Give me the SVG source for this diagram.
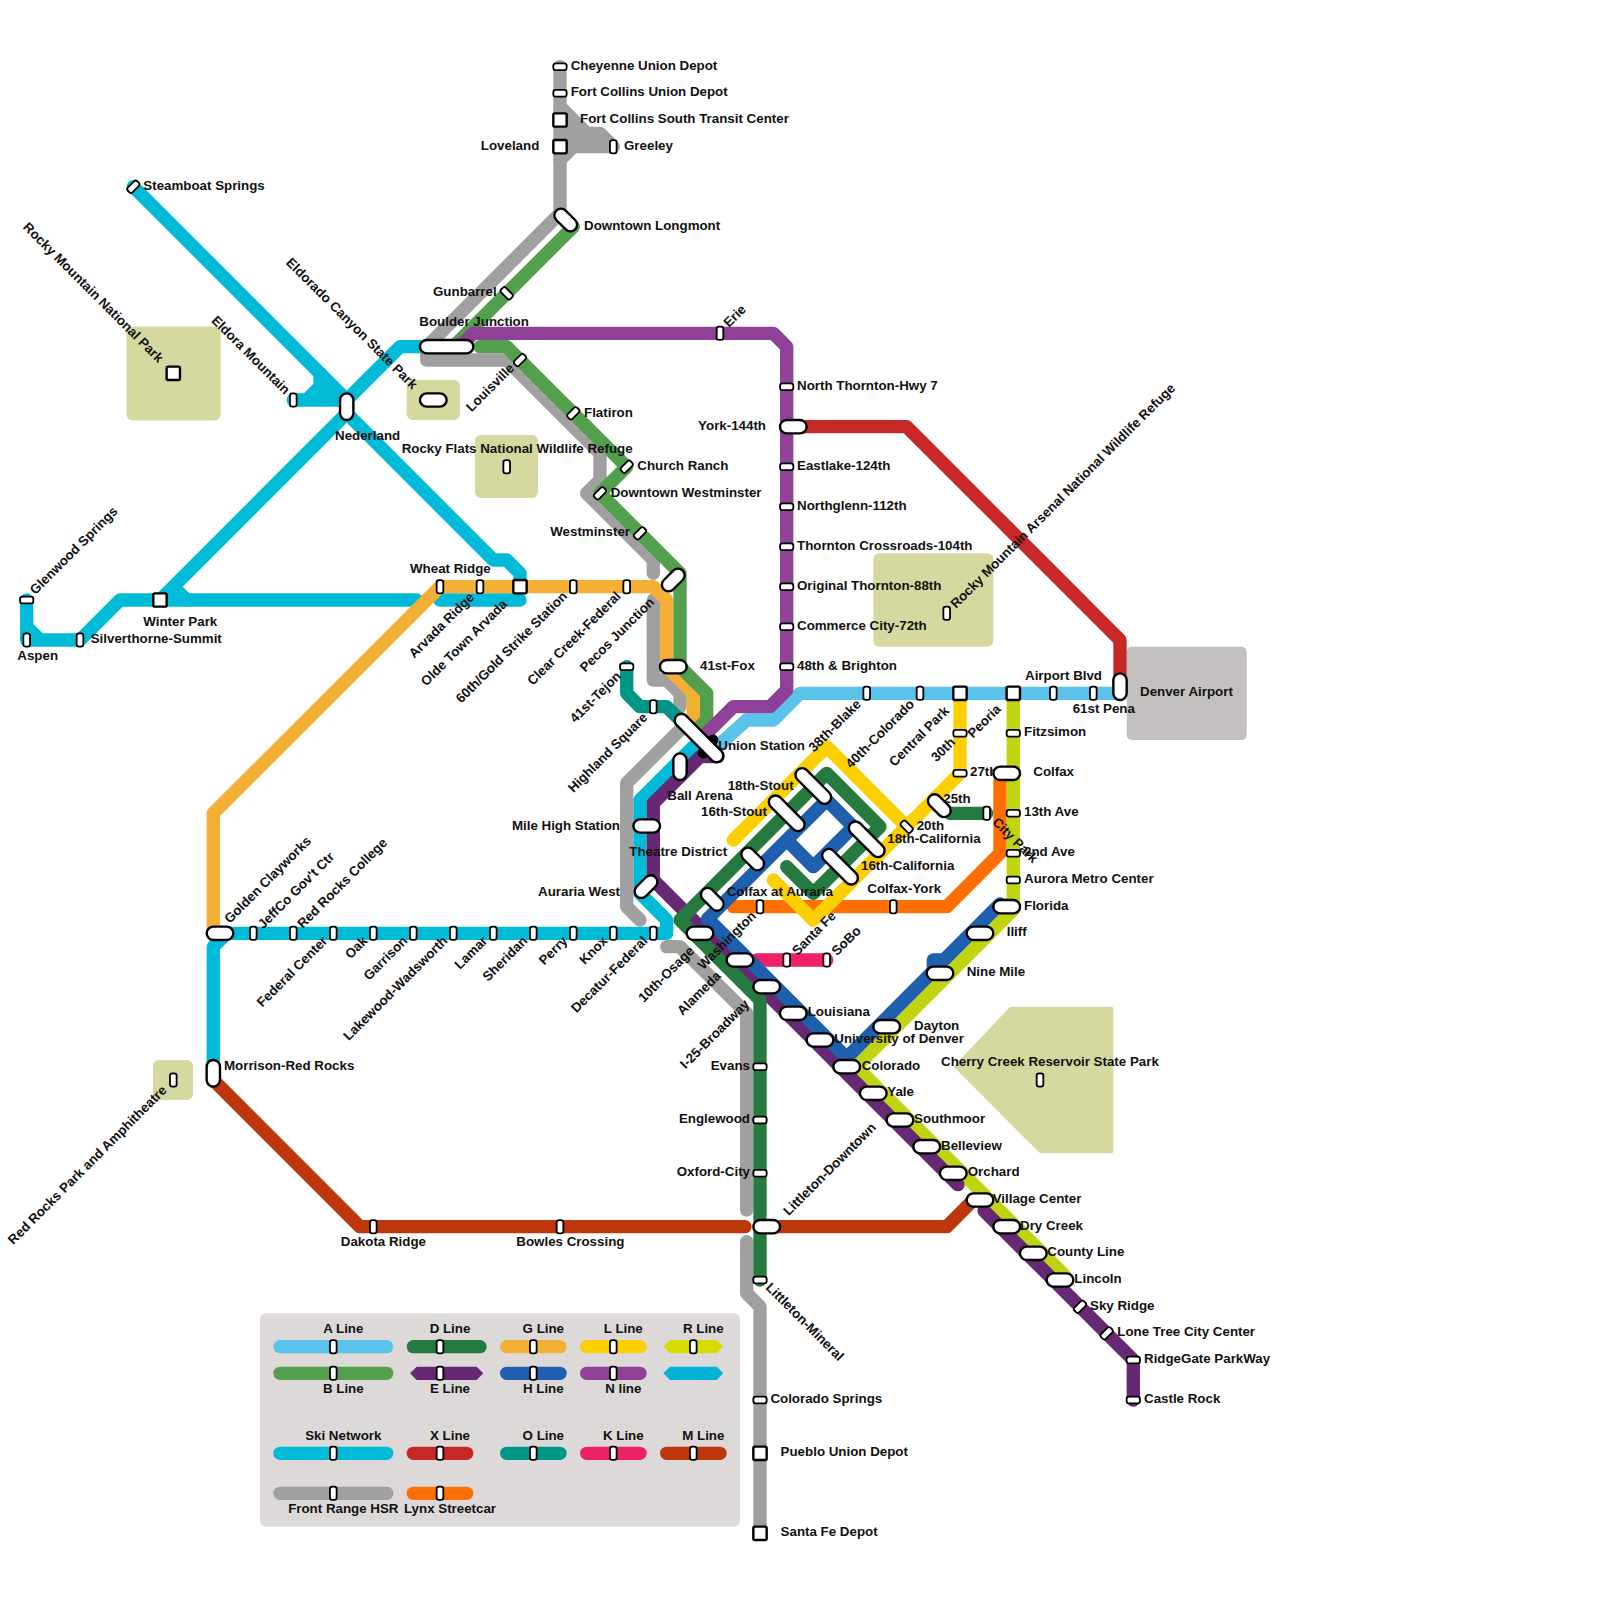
<svg xmlns="http://www.w3.org/2000/svg" width="1600" height="1600" viewBox="0 0 1600 1600">
<style>
text{font:bold 13.33px "Liberation Sans",Arial,sans-serif;fill:#111}
.m{text-anchor:middle}.e{text-anchor:end}
.st{fill:#fff;stroke:#000;stroke-width:1.8}
.p{stroke-width:2.4}
.l{fill:none;stroke-width:13.33;stroke-linecap:round;stroke-linejoin:round}
.park{fill:#d5d99f;stroke:#d5d99f;stroke-width:4;stroke-linejoin:round}
.A{stroke:#5bc2e9}.B{stroke:#52a04d}.D{stroke:#247a3f}.E{stroke:#662873}.G{stroke:#f4b034}.H{stroke:#1e5fae}.L{stroke:#fccf00}.N{stroke:#8e4196}.R{stroke:#c1d410}.S{stroke:#00bbd7}.X{stroke:#c62828}.O{stroke:#009688}.K{stroke:#ec2168}.M{stroke:#be360c}.F{stroke:#a0a0a0}.Y{stroke:#ff6f00}
</style>
<defs>
<rect id="a" class="st" x="-6.67" y="-3.33" width="13.33" height="6.67" rx="2.4"/>
<rect id="b" class="st p" x="-13.33" y="-6.67" width="26.67" height="13.33" rx="6.67"/>
<rect id="c" class="st p" x="-6.67" y="-6.67" width="13.33" height="13.33" rx="1.5"/>
<rect id="d" class="st p" x="-22.5" y="-6.67" width="45" height="13.33" rx="6.67"/>
</defs>
<g id="parks">
<rect class="park" x="128.5" y="328.5" width="90" height="90" rx="4"/>
<rect class="park" x="408.7" y="382" width="49.3" height="36" rx="4"/>
<rect class="park" x="477" y="437" width="59" height="59" rx="4"/>
<rect class="park" x="875.3" y="555.3" width="116" height="89.4" rx="4"/>
<rect class="park" x="155" y="1062" width="36" height="36" rx="4"/>
<polygon class="park" points="1011,1008.7 1111.3,1008.7 1111.3,1151.3 1041,1151.3 956.3,1066.7"/>
<rect x="1126.7" y="646.7" width="120" height="93.3" rx="5" fill="#c4c0c0"/>
</g>
<g id="legend">
<rect x="260" y="1313.3" width="480" height="213.4" rx="6" fill="#ddd9d9"/>
<path class="l A" d="M280 1346.7H386.7"/><path class="l B" d="M280 1373.3H386.7"/>
<path class="l D" d="M413.3 1346.7H480"/><path class="l G" d="M506.7 1346.7H560"/><path class="l L" d="M586.7 1346.7H640"/>
<path class="l H" d="M506.7 1373.3H560"/><path class="l N" d="M586.7 1373.3H640"/>
<polygon fill="#d8da00" points="663.3,1346.7 670,1340 716.7,1340 723.3,1346.7 716.7,1353.3 670,1353.3"/>
<polygon fill="#662873" points="410,1373.3 416.7,1366.7 476.7,1366.7 483.3,1373.3 476.7,1380 416.7,1380"/>
<polygon fill="#00b4d8" points="663.3,1373.3 670,1366.7 716.7,1366.7 723.3,1373.3 716.7,1380 670,1380"/>
<path class="l S" d="M280 1453.3H386.7"/><path class="l X" d="M413.3 1453.3H466.7"/><path class="l O" d="M506.7 1453.3H560"/><path class="l K" d="M586.7 1453.3H640"/><path class="l M" d="M666.7 1453.3H720"/>
<path class="l F" d="M280 1493.3H386.7"/><path class="l Y" d="M413.3 1493.3H466.7"/>
<g id="legend-stops">
<use href="#a" transform="translate(333.3 1346.7) rotate(90)"/><use href="#a" transform="translate(333.3 1373.3) rotate(90)"/><use href="#a" transform="translate(440 1346.7) rotate(90)"/><use href="#a" transform="translate(440 1373.3) rotate(90)"/><use href="#a" transform="translate(533.3 1346.7) rotate(90)"/><use href="#a" transform="translate(533.3 1373.3) rotate(90)"/><use href="#a" transform="translate(613.3 1346.7) rotate(90)"/><use href="#a" transform="translate(613.3 1373.3) rotate(90)"/><use href="#a" transform="translate(693.3 1346.7) rotate(90)"/>
<use href="#a" transform="translate(333.3 1453.3) rotate(90)"/><use href="#a" transform="translate(440 1453.3) rotate(90)"/><use href="#a" transform="translate(533.3 1453.3) rotate(90)"/><use href="#a" transform="translate(613.3 1453.3) rotate(90)"/><use href="#a" transform="translate(693.3 1453.3) rotate(90)"/>
<use href="#a" transform="translate(333.3 1493.3) rotate(90)"/><use href="#a" transform="translate(440 1493.3) rotate(90)"/>
</g>
<text class="m" x="343.3" y="1333">A Line</text><text class="m" x="450" y="1333">D Line</text><text class="m" x="543.3" y="1333">G Line</text><text class="m" x="623.3" y="1333">L Line</text><text class="m" x="703.3" y="1333">R Line</text>
<text class="m" x="343.3" y="1393">B Line</text><text class="m" x="450" y="1393">E Line</text><text class="m" x="543.3" y="1393">H Line</text><text class="m" x="623.3" y="1393">N line</text>
<text class="m" x="343.3" y="1439.7">Ski Network</text><text class="m" x="450" y="1439.7">X Line</text><text class="m" x="543.3" y="1439.7">O Line</text><text class="m" x="623.3" y="1439.7">K Line</text><text class="m" x="703.3" y="1439.7">M Line</text>
<text class="m" x="343.3" y="1513">Front Range HSR</text><text class="m" x="450" y="1513">Lynx Streetcar</text>
</g>
<g id="connectors">
<path class="l M" d="M213.3 1080L360 1226.7H745"/>
<path class="l M" d="M766.7 1226.7H946.7L973.3 1200"/>
<path class="l S" d="M133.3 186.7L346.7 400"/>
<path class="l S" d="M293.3 400H340M293.3 400H306.7L320 386.7V373.3M320 380L335 395"/>
<path class="l S" d="M346.7 413.3L493.3 560H506.7L520 573.3V586.7"/>
<path class="l S" d="M420 346.7H400L346.7 400"/>
<path class="l S" d="M346.7 413.3L160 600M173.3 586.7L186.7 600"/>
<path class="l S" d="M416.7 600H120L80 640H26.7V600M26.7 626.7L40 640"/>
<path class="l S" d="M440 600H520"/>
<path class="l S" d="M693.3 746.7L640 800V893.3L666.7 920V933.3H213.3"/>
<path class="l S" d="M226.7 933.3L213.3 946.7V1073.3"/>
<path class="l F" d="M560 66.7V213.3L426.7 346.7V360H506.7L600 453.3V480L586.7 493.3L653.3 560V573.3"/>
<path class="l F" style="fill:#a0a0a0" d="M560 106.7L586.7 133.3H600L613.3 146.7H573.3L560 160"/>
<path class="l F" d="M653.3 600V680H666.7L680 693.3V706.7"/>
<path class="l F" d="M686 724L626.7 783V906.7L640 920"/>
<path class="l F" d="M666.7 946.7H680L746.7 1013.3V1210"/>
<path class="l F" d="M746.7 1241.7V1293.3L760 1306.7V1533.3"/>
<path class="l X" d="M786.7 426.7H906.7L1120 640V686.7"/>
<path class="l A" d="M706.7 756L746.7 720H773.3L800 693.3H1120"/>
<path class="l G" d="M213.3 933.3V813.3L440 586.7H653.3L666.7 600V666.7L693.3 693.3V720"/>
<path class="l B" d="M573.3 226.7L453.3 346.7M480 346.7H506.7L626.7 466.7L600 493.3L680 573.3V666.7L706.7 693.3V720L693 733"/>
<path class="l N" d="M460 346.7L473.3 333.3H773.3L786.7 346.7V690L770 706.7H733.3L700 740"/>
<path class="l O" d="M626.7 666.7V693.3L640 706.7H666.7L680 720"/>
<path class="l K" d="M756.7 960H826.7"/>
<path class="l Y" d="M1000 780V853.3L946.7 906.7H733.3"/>
<path class="l R" d="M1013.3 700V909.7L856.2 1066.8L1065 1275.6"/>
<path class="l E" d="M718 756.7H700L653.3 803.3V880L958 1184.7"/>
<path class="l E" d="M984 1210.7L1133.3 1360V1400"/>
<path class="l H" d="M707.8 918.8L846.7 1057.7L933.3 971V960H944L1000 904"/>
<path class="l H" d="M707.8 918.8L826.7 800L853.3 826.7L813.3 866.7L786.7 840"/>
<path class="l D" d="M760 1280V1000L680 920L826.7 773.3L880 826.7L813.3 893.3L786.7 866.7"/>
<path class="l D" d="M950 813.3H986.7"/>
<path class="l L" d="M960 700V773.3L813.3 920L773.3 880"/>
<path class="l L" d="M733.3 840L826.7 746.7L906.7 826.7"/>
<path d="M703 753L713 740" fill="none" stroke="#000" stroke-width="11" stroke-linecap="round"/>
</g>
<g id="nodes">
<g id="cheyenne"><use href="#a" x="560" y="66.7"/><text x="570.7" y="69.7">Cheyenne Union Depot</text></g>
<g id="fort-collins"><use href="#a" x="560" y="93.3"/><text x="570.7" y="96.4">Fort Collins Union Depot</text></g>
<g id="fort-collins-south"><use href="#c" x="560" y="120"/><text x="580" y="123">Fort Collins South Transit Center</text></g>
<g id="loveland"><use href="#c" x="560" y="146.7"/><text class="e" x="539.3" y="149.7">Loveland</text></g>
<g id="greeley"><use href="#a" transform="translate(613.3 146.7) rotate(90)"/><text x="624" y="149.7">Greeley</text></g>
<g id="longmont"><use href="#b" transform="translate(565.7 220) rotate(45)"/><text x="584" y="229.7">Downtown Longmont</text></g>
<g id="gunbarrel"><use href="#a" transform="translate(506.7 293.3) rotate(45)"/><text class="e" x="496.7" y="296.4">Gunbarrel</text></g>
<g id="boulder"><rect class="st p" x="420" y="340" width="53.3" height="13.33" rx="6.67"/><text x="419.3" y="326.4">Boulder Junction</text></g>
<g id="erie"><use href="#a" transform="translate(720 333.3) rotate(90)"/><text transform="translate(729 328) rotate(-45)">Erie</text></g>
<g id="louisville"><use href="#a" transform="translate(520 360) rotate(-45)"/><text class="e" transform="translate(515 369) rotate(-45)">Louisville</text></g>
<g id="flatiron"><use href="#a" transform="translate(573.3 413.3) rotate(-45)"/><text x="584" y="416.7">Flatiron</text></g>
<g id="church-ranch"><use href="#a" transform="translate(626.7 466.7) rotate(-45)"/><text x="637.3" y="469.7">Church Ranch</text></g>
<g id="downtown-westminster"><use href="#a" transform="translate(600 493.3) rotate(-45)"/><text x="610.7" y="496.7">Downtown Westminster</text></g>
<g id="westminster"><use href="#a" transform="translate(640 533.3) rotate(-45)"/><text class="e" x="630" y="536.4">Westminster</text></g>
<g id="pecos"><use href="#b" transform="translate(673.3 580) rotate(-45)"/><text class="e" transform="translate(655 603) rotate(-45)">Pecos Junction</text></g>
<g id="fox"><use href="#b" x="673.3" y="666.7"/><text x="700" y="669.7">41st-Fox</text></g>
<g id="tejon"><use href="#a" x="626.7" y="666.7"/><text class="e" transform="translate(621.7 677) rotate(-45)">41st-Tejon</text></g>
<g id="highland"><use href="#a" transform="translate(653.3 706.7) rotate(90)"/><text class="e" transform="translate(648.3 718.3) rotate(-45)">Highland Square</text></g>
<g id="union"><rect class="st p" x="-31.5" y="-6.67" width="63" height="13.33" rx="6.67" transform="translate(699 738) rotate(45)"/><text x="718.3" y="749.7">Union Station</text></g>
<g id="ball-arena"><use href="#b" transform="translate(680 766.7) rotate(90)"/><text x="667.3" y="799.7">Ball Arena</text></g>
<g id="mile-high"><use href="#b" x="646.7" y="826"/><text class="e" x="620" y="829.7">Mile High Station</text></g>
<g id="auraria-west"><use href="#b" transform="translate(646 886.7) rotate(-45)"/><text class="e" x="620" y="896.4">Auraria West</text></g>
<g id="theatre"><use href="#b" transform="translate(752.7 859) rotate(45)"/><text x="629.3" y="856.4">Theatre District</text></g>
<g id="colfax-auraria"><use href="#b" transform="translate(712.3 899.3) rotate(45)"/><text x="726.7" y="896.4">Colfax at Auraria</text></g>
<g id="stout16"><use href="#d" transform="translate(786.7 813.3) rotate(45)"/><text x="701" y="816.4">16th-Stout</text></g>
<g id="stout18"><use href="#d" transform="translate(813.3 786) rotate(45)"/><text x="727.7" y="789.7">18th-Stout</text></g>
<g id="cal18"><use href="#d" transform="translate(866.7 839.3) rotate(45)"/><text x="887.3" y="843">18th-California</text></g>
<g id="cal16"><use href="#d" transform="translate(840 866.7) rotate(45)"/><text x="861" y="869.7">16th-California</text></g>
<g id="th20"><use href="#a" transform="translate(906.7 826.7) rotate(45)"/><text x="916.7" y="829.7">20th</text></g>
<g id="th25"><use href="#b" transform="translate(939.3 805.7) rotate(45)"/><text x="943.3" y="803">25th</text></g>
<g id="cp-stop"><use href="#a" transform="translate(986.7 813.3) rotate(90)"/><text transform="translate(991.7 823) rotate(45)">City Park</text></g>
<g id="th27"><use href="#a" x="960" y="773.3"/><text x="970" y="776.4">27th</text></g>
<g id="th30"><use href="#a" x="960" y="733.3"/><text class="e" transform="translate(956 743) rotate(-45)">30th</text></g>
<g id="peoria"><use href="#c" x="960" y="693.3"/><text class="e" transform="translate(1001.7 710) rotate(-45)">Peoria</text></g>
<g id="central-park"><use href="#a" transform="translate(920 693.3) rotate(90)"/><text class="e" transform="translate(950 711.7) rotate(-45)">Central Park</text></g>
<g id="colorado40"><use href="#a" transform="translate(866.7 693.3) rotate(90)"/><text class="e" transform="translate(915 705) rotate(-45)">40th-Colorado</text></g>
<g id="blake"><text class="e" transform="translate(861.7 705) rotate(-45)">38th-Blake</text></g>
<g id="airport-blvd"><use href="#c" x="1013.3" y="693.3"/><use href="#a" transform="translate(1053.3 693.3) rotate(90)"/><text x="1025" y="679.7">Airport Blvd</text></g>
<g id="pena61"><use href="#a" transform="translate(1093.3 693.3) rotate(90)"/><use href="#b" transform="translate(1120 686.7) rotate(90)"/><text x="1072.7" y="713">61st Pena</text></g>
<g id="denver-airport"><text x="1140" y="696.4">Denver Airport</text></g>
<g id="fitzsimon"><use href="#a" x="1013.3" y="733.3"/><text x="1024" y="736.4">Fitzsimon</text></g>
<g id="colfax"><use href="#b" x="1006.7" y="773.3"/><text x="1033.3" y="776.4">Colfax</text></g>
<g id="ave13"><use href="#a" x="1013.3" y="813.3"/><text x="1024" y="816.4">13th Ave</text></g>
<g id="ave2"><use href="#a" x="1013.3" y="853.3"/><text x="1024" y="856.4">2nd Ave</text></g>
<g id="aurora"><use href="#a" x="1013.3" y="880"/><text x="1024" y="883">Aurora Metro Center</text></g>
<g id="florida"><use href="#b" x="1006.7" y="906.7"/><text x="1024" y="909.7">Florida</text></g>
<g id="iliff"><use href="#b" x="980" y="933.3"/><text x="1006.7" y="936.4">Iliff</text></g>
<g id="nine-mile"><use href="#b" x="940" y="973.3"/><text x="966.7" y="976.4">Nine Mile</text></g>
<g id="dayton"><use href="#b" x="886.7" y="1026.7"/><text x="914" y="1029.7">Dayton</text></g>
<g id="york"><use href="#b" x="793.3" y="426.7"/><text class="e" x="766" y="429.7">York-144th</text></g>
<g id="nth"><use href="#a" x="786.7" y="386.7"/><text x="797" y="390.4">North Thornton-Hwy 7</text></g>
<g id="eastlake"><use href="#a" x="786.7" y="466.7"/><text x="797" y="470.4">Eastlake-124th</text></g>
<g id="northglenn"><use href="#a" x="786.7" y="506.7"/><text x="797" y="510.4">Northglenn-112th</text></g>
<g id="crossroads"><use href="#a" x="786.7" y="546.7"/><text x="797" y="550.4">Thornton Crossroads-104th</text></g>
<g id="original"><use href="#a" x="786.7" y="586.7"/><text x="797" y="590.4">Original Thornton-88th</text></g>
<g id="commerce"><use href="#a" x="786.7" y="626.7"/><text x="797" y="630.4">Commerce City-72th</text></g>
<g id="brighton"><use href="#a" x="786.7" y="666.7"/><text x="797" y="670.4">48th &amp; Brighton</text></g>
<g id="arsenal"><use href="#a" transform="translate(946.7 613.3) rotate(90)"/><text transform="translate(956 609) rotate(-45)">Rocky Mountain Arsenal National Wildlife Refuge</text></g>
<g id="colfax-york"><use href="#a" transform="translate(760 906.7) rotate(90)"/><use href="#a" transform="translate(893.3 906.7) rotate(90)"/><text x="867.3" y="893">Colfax-York</text></g>
<g id="santa-fe"><use href="#a" transform="translate(786.7 960) rotate(90)"/><text class="e" transform="translate(836.7 916.7) rotate(-45)">Santa Fe</text></g>
<g id="sobo"><use href="#a" transform="translate(826.7 960) rotate(90)"/><text class="e" transform="translate(861.7 931.7) rotate(-45)">SoBo</text></g>
<g id="washington"><use href="#b" x="740" y="960"/><text class="e" transform="translate(756.7 916.7) rotate(-45)">Washington</text></g>
<g id="alameda"><use href="#b" x="766.7" y="986.7"/><text class="e" transform="translate(721.7 976.7) rotate(-45)">Alameda</text></g>
<g id="osage"><use href="#b" x="700" y="933.3"/><text class="e" transform="translate(695 951.7) rotate(-45)">10th-Osage</text></g>
<g id="decatur"><use href="#a" transform="translate(653.3 933.3) rotate(90)"/><text class="e" transform="translate(648.3 941.7) rotate(-45)">Decatur-Federal</text></g>
<g id="knox"><use href="#a" transform="translate(613.3 933.3) rotate(90)"/><text class="e" transform="translate(608.3 941.7) rotate(-45)">Knox</text></g>
<g id="perry"><use href="#a" transform="translate(573.3 933.3) rotate(90)"/><text class="e" transform="translate(568.3 941.7) rotate(-45)">Perry</text></g>
<g id="sheridan"><use href="#a" transform="translate(533.3 933.3) rotate(90)"/><text class="e" transform="translate(528.3 941.7) rotate(-45)">Sheridan</text></g>
<g id="lamar"><use href="#a" transform="translate(493.3 933.3) rotate(90)"/><text class="e" transform="translate(488.3 941.7) rotate(-45)">Lamar</text></g>
<g id="wadsworth"><use href="#a" transform="translate(453.3 933.3) rotate(90)"/><text class="e" transform="translate(448.3 941.7) rotate(-45)">Lakewood-Wadsworth</text></g>
<g id="garrison"><use href="#a" transform="translate(413.3 933.3) rotate(90)"/><text class="e" transform="translate(408.3 941.7) rotate(-45)">Garrison</text></g>
<g id="oak"><use href="#a" transform="translate(373.3 933.3) rotate(90)"/><text class="e" transform="translate(368.3 941.7) rotate(-45)">Oak</text></g>
<g id="federal"><use href="#a" transform="translate(333.3 933.3) rotate(90)"/><text class="e" transform="translate(328.3 941.7) rotate(-45)">Federal Center</text></g>
<g id="redrocks-college"><use href="#a" transform="translate(293.3 933.3) rotate(90)"/><text transform="translate(302.7 929) rotate(-45)">Red Rocks College</text></g>
<g id="jeffco"><use href="#a" transform="translate(253.3 933.3) rotate(90)"/><text transform="translate(263.2 929.5) rotate(-45)">JeffCo Gov't Ctr</text></g>
<g id="golden"><use href="#b" x="220" y="933.3"/><text transform="translate(229.7 924) rotate(-45)">Golden Clayworks</text></g>
<g id="morrison"><use href="#b" transform="translate(213.3 1073.3) rotate(90)"/><text x="224" y="1069.7">Morrison-Red Rocks</text></g>
<g id="redrocks"><use href="#a" transform="translate(173.3 1080) rotate(90)"/><text class="e" transform="translate(167.5 1091) rotate(-45)">Red Rocks Park and Amphitheatre</text></g>
<g id="wheat"><use href="#a" transform="translate(440 586.7) rotate(90)"/><text x="410" y="572.7">Wheat Ridge</text></g>
<g id="arvada"><use href="#a" transform="translate(480 586.7) rotate(90)"/><text class="e" transform="translate(475 598) rotate(-45)">Arvada Ridge</text></g>
<g id="olde"><use href="#c" x="520" y="586.7"/><text class="e" transform="translate(508 605) rotate(-45)">Olde Town Arvada</text></g>
<g id="gold"><use href="#a" transform="translate(573.3 586.7) rotate(90)"/><text class="e" transform="translate(568 597) rotate(-45)">60th/Gold Strike Station</text></g>
<g id="clear"><use href="#a" transform="translate(626.7 586.7) rotate(90)"/><text class="e" transform="translate(621.7 597) rotate(-45)">Clear Creek-Federal</text></g>
<g id="steamboat"><use href="#a" transform="translate(133.3 186.7) rotate(-45)"/><text x="143.3" y="190">Steamboat Springs</text></g>
<g id="rmnp"><use href="#c" x="173.3" y="373.3"/><text class="e" transform="translate(158 363.5) rotate(45)">Rocky Mountain National Park</text></g>
<g id="eldora"><use href="#a" transform="translate(293.3 400) rotate(90)"/><text class="e" transform="translate(284.5 395) rotate(45)">Eldora Mountain</text></g>
<g id="nederland"><use href="#b" transform="translate(346.7 406.7) rotate(90)"/><text x="335" y="439.7">Nederland</text></g>
<g id="eldorado"><use href="#b" x="433.3" y="400"/><text class="e" transform="translate(412 390) rotate(45)">Eldorado Canyon State Park</text></g>
<g id="rocky-flats"><use href="#a" transform="translate(506.7 466.7) rotate(90)"/><text x="401.7" y="453">Rocky Flats National Wildlife Refuge</text></g>
<g id="glenwood"><use href="#a" x="26.7" y="600"/><text transform="translate(35.3 595.3) rotate(-45)">Glenwood Springs</text></g>
<g id="aspen"><use href="#a" transform="translate(26.7 640) rotate(90)"/><text x="17.3" y="659.7">Aspen</text></g>
<g id="silverthorne"><use href="#a" transform="translate(80 640) rotate(90)"/><text x="90.7" y="643">Silverthorne-Summit</text></g>
<g id="winter-park"><use href="#c" x="160" y="600"/><text x="143.3" y="626.4">Winter Park</text></g>
<g id="dakota"><use href="#a" transform="translate(373.3 1226.7) rotate(90)"/><text x="340.8" y="1246">Dakota Ridge</text></g>
<g id="bowles"><use href="#a" transform="translate(560 1226.7) rotate(90)"/><text x="516.3" y="1246">Bowles Crossing</text></g>
<g id="littleton"><use href="#b" x="766.7" y="1226.7"/><text class="e" transform="translate(876.7 1128.3) rotate(-45)">Littleton-Downtown</text></g>
<g id="mineral"><use href="#a" x="760" y="1280"/><text transform="translate(765 1288.3) rotate(45)">Littleton-Mineral</text></g>
<g id="evans"><use href="#a" x="760" y="1066.7"/><text class="e" x="750" y="1069.7">Evans</text></g>
<g id="englewood"><use href="#a" x="760" y="1120"/><text class="e" x="750" y="1123">Englewood</text></g>
<g id="oxford"><use href="#a" x="760" y="1173.3"/><text class="e" x="750" y="1176.4">Oxford-City</text></g>
<g id="broadway"><text class="e" transform="translate(750 1005) rotate(-45)">I-25-Broadway</text></g>
<g id="louisiana"><use href="#b" x="793.3" y="1013.3"/><text x="807.7" y="1016.4">Louisiana</text></g>
<g id="university"><use href="#b" x="820" y="1040"/><text x="834.3" y="1043">University of Denver</text></g>
<g id="colorado"><use href="#b" x="846.7" y="1066.7"/><text x="861.7" y="1069.7">Colorado</text></g>
<g id="yale"><use href="#b" x="873.3" y="1093.3"/><text x="887.3" y="1096.4">Yale</text></g>
<g id="southmoor"><use href="#b" x="900" y="1120"/><text x="914" y="1123">Southmoor</text></g>
<g id="belleview"><use href="#b" x="926.7" y="1146.7"/><text x="941" y="1149.7">Belleview</text></g>
<g id="orchard"><use href="#b" x="953.3" y="1173.3"/><text x="967.7" y="1176.4">Orchard</text></g>
<g id="village"><use href="#b" x="980" y="1200"/><text x="992.7" y="1203">Village Center</text></g>
<g id="dry-creek"><use href="#b" x="1006.7" y="1226.7"/><text x="1020" y="1229.7">Dry Creek</text></g>
<g id="county"><use href="#b" x="1033.3" y="1253.3"/><text x="1047.3" y="1256.4">County Line</text></g>
<g id="lincoln"><use href="#b" x="1060" y="1280"/><text x="1074.3" y="1283">Lincoln</text></g>
<g id="sky"><use href="#a" transform="translate(1080 1306.7) rotate(-45)"/><text x="1090" y="1309.7">Sky Ridge</text></g>
<g id="lone-tree"><use href="#a" transform="translate(1106.7 1333.3) rotate(-45)"/><text x="1117.3" y="1336.4">Lone Tree City Center</text></g>
<g id="ridgegate"><use href="#a" x="1133.3" y="1360"/><text x="1144" y="1363">RidgeGate ParkWay</text></g>
<g id="castle"><use href="#a" x="1133.3" y="1400"/><text x="1144" y="1403">Castle Rock</text></g>
<g id="cherry"><use href="#a" transform="translate(1040 1080) rotate(90)"/><text x="941" y="1066">Cherry Creek Reservoir State Park</text></g>
<g id="springs"><use href="#a" x="760" y="1400"/><text x="770.4" y="1403">Colorado Springs</text></g>
<g id="pueblo"><use href="#c" x="760" y="1453.3"/><text x="780.6" y="1456.4">Pueblo Union Depot</text></g>
<g id="santafe-depot"><use href="#c" x="760" y="1533.3"/><text x="780.6" y="1536.4">Santa Fe Depot</text></g>
</g>
</svg>
